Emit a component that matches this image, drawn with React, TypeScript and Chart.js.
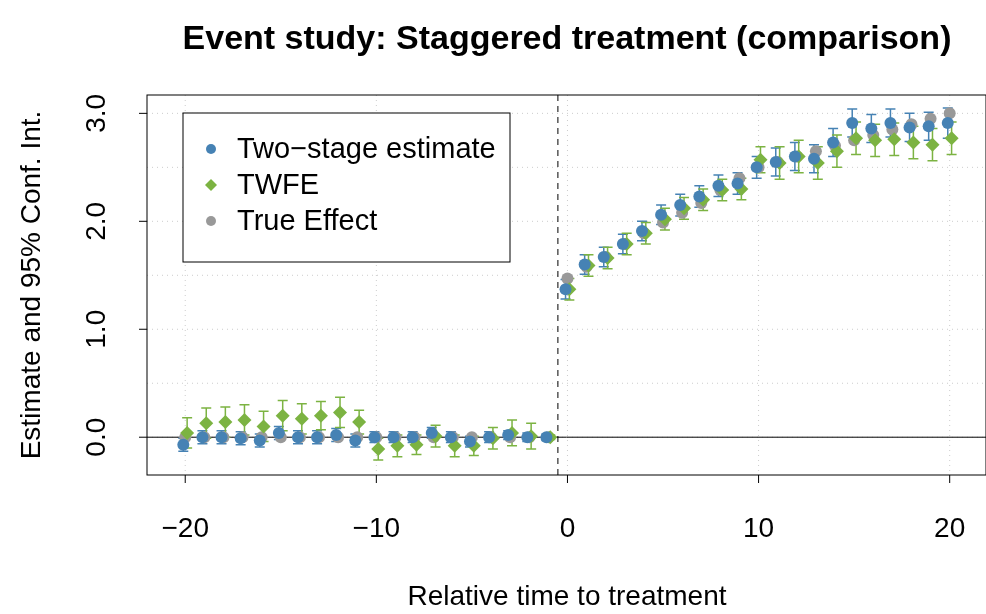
import React, { useEffect, useRef } from 'react';
import { Chart, registerables } from 'chart.js';

Chart.register(...registerables);

const relTime = Array.from({ length: 41 }, (_, i) => i - 20);

const twoStage = [
  -0.07, 0, 0, -0.01, -0.03, 0.04, 0, 0, 0.02, -0.03, 0, 0, 0, 0.04, 0, -0.04, 0, 0.02, 0, 0,
  1.37, 1.6, 1.67, 1.79, 1.91, 2.06, 2.15, 2.23, 2.33, 2.35, 2.5, 2.55, 2.6, 2.58, 2.73, 2.91, 2.86, 2.91, 2.87, 2.88, 2.91,
];
const twoStageSe = [
  0.06, 0.06, 0.06, 0.06, 0.06, 0.06, 0.06, 0.06, 0.06, 0.06, 0.05, 0.05, 0.05, 0.05, 0.05, 0.05, 0.05, 0.04, 0.04, 0.03,
  0.09, 0.09, 0.09, 0.09, 0.09, 0.09, 0.1, 0.1, 0.1, 0.1, 0.1, 0.13, 0.13, 0.13, 0.13, 0.13, 0.13, 0.13, 0.13, 0.13, 0.14,
];
const twfe = [
  0.04, 0.13, 0.14, 0.16, 0.1, 0.2, 0.17, 0.2, 0.23, 0.14, -0.11, -0.08, -0.07, 0.01, -0.08, -0.08, -0.01, 0.04, 0.01, 0,
  1.37, 1.59, 1.66, 1.79, 1.89, 2.02, 2.12, 2.2, 2.29, 2.3, 2.57, 2.54, 2.6, 2.54, 2.65, 2.77, 2.75, 2.76, 2.73, 2.71, 2.77,
];
const twfeSe = [
  0.14, 0.14, 0.14, 0.14, 0.14, 0.14, 0.14, 0.13, 0.14, 0.11, 0.1, 0.1, 0.09, 0.1, 0.1, 0.09, 0.1, 0.12, 0.12, 0.02,
  0.1, 0.1, 0.1, 0.1, 0.1, 0.1, 0.1, 0.1, 0.1, 0.1, 0.12, 0.15, 0.15, 0.15, 0.15, 0.15, 0.15, 0.15, 0.15, 0.15, 0.15,
];
const trueEffect = [
  0, 0, 0, 0, 0, 0, 0, 0, 0, 0, 0, 0, 0, 0, 0, 0, 0, 0, 0, 0,
  1.47, 1.58, 1.67, 1.79, 1.89, 1.99, 2.08, 2.17, 2.29, 2.4, 2.5, 2.55, 2.6, 2.65, 2.7, 2.75, 2.8, 2.85, 2.9, 2.95, 3.0,
];

const xTicks = [-20, -10, 0, 10, 20];
const yTicks = [0, 1, 2, 3];
const yGrid = [0, 0.5, 1, 1.5, 2, 2.5, 3];

const BLUE = '#4682B4';
const GREEN = '#7CB342';
const GREY = '#999999';
const FONT = 'Liberation Sans, Arial, sans-serif';

const series = [
  { label: 'Two\u2212stage estimate', data: twoStage, se: twoStageSe, color: BLUE, shape: 'circle', off: -0.1 },
  { label: 'TWFE', data: twfe, se: twfeSe, color: GREEN, shape: 'rectRot', off: 0.1 },
  { label: 'True Effect', data: trueEffect, se: null as number[] | null, color: GREY, shape: 'circle', off: 0 },
];

const decorPlugin = {
  id: 'decor',
  beforeDatasetsDraw(chart: any) {
    const { ctx, chartArea: a, scales } = chart;
    const x = scales.x, y = scales.y;
    ctx.save();
    // grid
    ctx.strokeStyle = '#cccccc';
    ctx.lineWidth = 1;
    ctx.setLineDash([1, 4]);
    xTicks.forEach((t) => {
      const px = x.getPixelForValue(t);
      ctx.beginPath(); ctx.moveTo(px, a.top); ctx.lineTo(px, a.bottom); ctx.stroke();
    });
    yGrid.forEach((t) => {
      const py = y.getPixelForValue(t);
      ctx.beginPath(); ctx.moveTo(a.left, py); ctx.lineTo(a.right, py); ctx.stroke();
    });
    // reference lines
    ctx.strokeStyle = '#000';
    ctx.setLineDash([]);
    const y0 = y.getPixelForValue(0);
    ctx.beginPath(); ctx.moveTo(a.left, y0); ctx.lineTo(a.right, y0); ctx.stroke();
    ctx.setLineDash([6, 5]);
    const xv = x.getPixelForValue(-0.5);
    ctx.beginPath(); ctx.moveTo(xv, a.top); ctx.lineTo(xv, a.bottom); ctx.stroke();
    ctx.setLineDash([]);
    // error bars
    series.forEach((s) => {
      if (!s.se) return;
      ctx.strokeStyle = s.color;
      ctx.lineWidth = 1.5;
      relTime.forEach((t, i) => {
        const px = x.getPixelForValue(t + s.off);
        const lo = y.getPixelForValue(s.data[i] - s.se![i]);
        const hi = y.getPixelForValue(s.data[i] + s.se![i]);
        ctx.beginPath();
        ctx.moveTo(px, lo); ctx.lineTo(px, hi);
        ctx.moveTo(px - 5, lo); ctx.lineTo(px + 5, lo);
        ctx.moveTo(px - 5, hi); ctx.lineTo(px + 5, hi);
        ctx.stroke();
      });
    });
    ctx.restore();
  },
  afterDraw(chart: any) {
    const { ctx, chartArea: a, scales } = chart;
    const x = scales.x, y = scales.y;
    ctx.save();
    ctx.strokeStyle = '#000';
    ctx.lineWidth = 1;
    ctx.strokeRect(a.left, a.top, a.right - a.left, a.bottom - a.top);
    ctx.fillStyle = '#000';
    ctx.font = `28px ${FONT}`;
    ctx.textAlign = 'center';
    ctx.textBaseline = 'middle';
    xTicks.forEach((t) => {
      const px = x.getPixelForValue(t);
      ctx.beginPath(); ctx.moveTo(px, a.bottom); ctx.lineTo(px, a.bottom + 8); ctx.stroke();
      ctx.fillText(t < 0 ? `\u2212${-t}` : `${t}`, px, a.bottom + 54);
    });
    yTicks.forEach((t) => {
      const py = y.getPixelForValue(t);
      ctx.beginPath(); ctx.moveTo(a.left, py); ctx.lineTo(a.left - 8, py); ctx.stroke();
      ctx.save();
      ctx.translate(a.left - 50, py);
      ctx.rotate(-Math.PI / 2);
      ctx.fillText(t.toFixed(1), 0, 0);
      ctx.restore();
    });
    ctx.fillText('Relative time to treatment', 567, 597);
    ctx.save();
    ctx.translate(32, 285);
    ctx.rotate(-Math.PI / 2);
    ctx.fillText('Estimate and 95% Conf. Int.', 0, 0);
    ctx.restore();
    ctx.font = `bold 34px ${FONT}`;
    ctx.fillText('Event study: Staggered treatment (comparison)', 567, 40);
    // legend
    ctx.fillStyle = '#fff';
    ctx.fillRect(183, 113, 327, 149);
    ctx.strokeRect(183, 113, 327, 149);
    ctx.textAlign = 'left';
    ctx.font = `29px ${FONT}`;
    series.forEach((s, i) => {
      const ly = 149 + i * 36;
      ctx.fillStyle = s.color;
      ctx.beginPath();
      if (s.shape === 'circle') ctx.arc(211, ly, 5, 0, Math.PI * 2);
      else { ctx.moveTo(211, ly - 6); ctx.lineTo(217, ly); ctx.lineTo(211, ly + 6); ctx.lineTo(205, ly); ctx.closePath(); }
      ctx.fill();
      ctx.fillStyle = '#000';
      ctx.fillText(s.label, 237, ly + 1);
    });
    ctx.restore();
  },
};

const App: React.FC = () => {
  const chartRef = useRef<HTMLCanvasElement>(null);

  useEffect(() => {
    document.body.style.margin = '0';
    if (!chartRef.current) return;
    const chart = new Chart(chartRef.current, {
      type: 'scatter',
      data: {
        datasets: series.map((s) => ({
          label: s.label,
          data: relTime.map((t, i) => ({ x: t + s.off, y: s.data[i] })),
          backgroundColor: s.color,
          borderColor: s.color,
          pointStyle: s.shape,
          pointRadius: s.shape === 'circle' ? 6 : 7,
          borderWidth: 0,
        })),
      },
      options: {
        animation: false,
        responsive: false,
        layout: { autoPadding: false, padding: { left: 147, top: 95, right: 0, bottom: 139 } },
        plugins: { legend: { display: false }, tooltip: { enabled: false } },
        scales: {
          x: { type: 'linear', min: -22, max: 21.9, display: false },
          y: { type: 'linear', min: -0.35, max: 3.17, display: false },
        },
      },
      plugins: [decorPlugin],
    });
    return () => chart.destroy();
  }, []);

  return <canvas ref={chartRef} width={986} height={614} style={{ display: 'block' }}></canvas>;
};

export default App;
